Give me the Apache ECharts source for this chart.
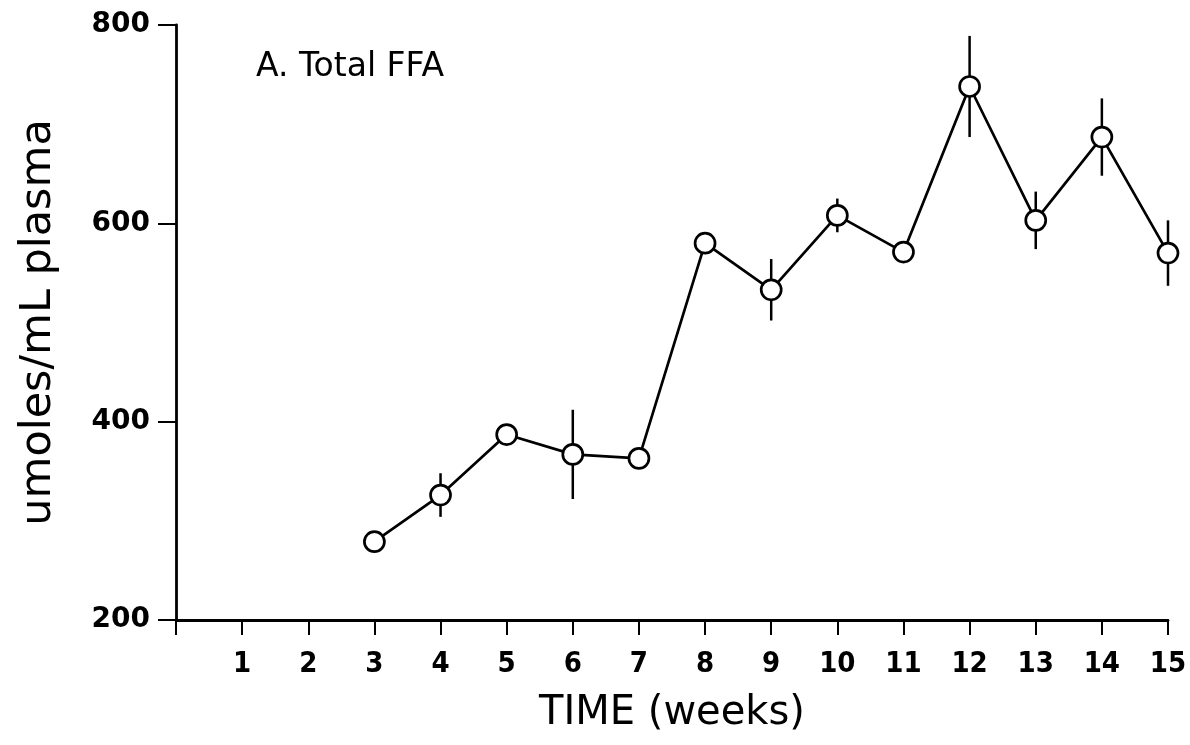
<!DOCTYPE html>
<html><head><meta charset="utf-8">
<script src="https://cdn.jsdelivr.net/npm/echarts@6/dist/echarts.min.js"></script>
<style>html,body{margin:0;padding:0;background:#fff}#c{width:1190px;height:745px}</style>
</head><body><div id="c"></div>
<script>
const weeks = [3, 4, 5, 6, 7, 8, 9, 10, 11, 12, 13, 14, 15];
const meanFFA = [279, 326, 387, 367, 363, 580, 533, 608, 571, 738, 603, 687, 570];
const errFFA = [0, 22, 0, 45, 0, 0, 31, 17, 0, 51, 29, 39, 33];
const xTickLabels = ['', '1', '2', '3', '4', '5', '6', '7', '8', '9', '10', '11', '12', '13', '14', '15'];
const yTicks = [200, 400, 600, 800];

const lineData = weeks.map((w, i) => [w, meanFFA[i]]);
const errData = weeks.map((w, i) => [w, meanFFA[i] - errFFA[i], meanFFA[i] + errFFA[i]]).filter((d, i) => errFFA[i] > 0);

const chart = echarts.init(document.getElementById('c'));
const font = 'DejaVu Sans';
chart.setOption({
  animation: false,
  backgroundColor: '#fff',
  grid: { left: 176, right: 22, top: 25, bottom: 125, containLabel: false },
  xAxis: {
    type: 'value', min: 0, max: 15, interval: 1,
    name: 'TIME (weeks)', nameLocation: 'middle', nameGap: 74,
    nameTextStyle: { fontFamily: font, fontSize: 40, color: '#000' },
    axisLine: { lineStyle: { color: '#000', width: 2.8 } },
    axisTick: { length: 15, lineStyle: { color: '#000', width: 2 } },
    axisLabel: { margin: 30, fontFamily: 'DejaVu Sans Condensed', fontSize: 29, fontWeight: 'bold', color: '#000',
      formatter: v => xTickLabels[v] || '' },
    splitLine: { show: false }
  },
  yAxis: {
    type: 'value', min: yTicks[0], max: yTicks[yTicks.length - 1], interval: 200,
    name: 'umoles/mL plasma', nameLocation: 'middle', nameGap: 116,
    nameTextStyle: { fontFamily: font, fontSize: 43, color: '#000' },
    axisLine: { lineStyle: { color: '#000', width: 2.8 } },
    axisTick: { length: 18, lineStyle: { color: '#000', width: 2 } },
    axisLabel: { margin: 26, fontFamily: font, fontSize: 28, fontWeight: 'bold', color: '#000' },
    splitLine: { show: false }
  },
  graphic: [{
    type: 'text', left: 256, top: 51,
    style: { text: 'A. Total FFA', fontFamily: font, fontSize: 33, fill: '#000' }
  }],
  series: [
    {
      type: 'custom', z: 1,
      data: errData,
      renderItem: (params, api) => {
        const x = api.value(0);
        const lo = api.coord([x, api.value(1)]);
        const hi = api.coord([x, api.value(2)]);
        return { type: 'line', shape: { x1: lo[0], y1: lo[1], x2: hi[0], y2: hi[1] },
          style: { stroke: '#000', lineWidth: 2.5 } };
      }
    },
    {
      type: 'line', z: 2,
      data: lineData,
      symbol: 'circle', symbolSize: 20,
      lineStyle: { color: '#000', width: 2.7 },
      itemStyle: { color: '#fff', borderColor: '#000', borderWidth: 2.7 }
    }
  ]
});
</script></body></html>
